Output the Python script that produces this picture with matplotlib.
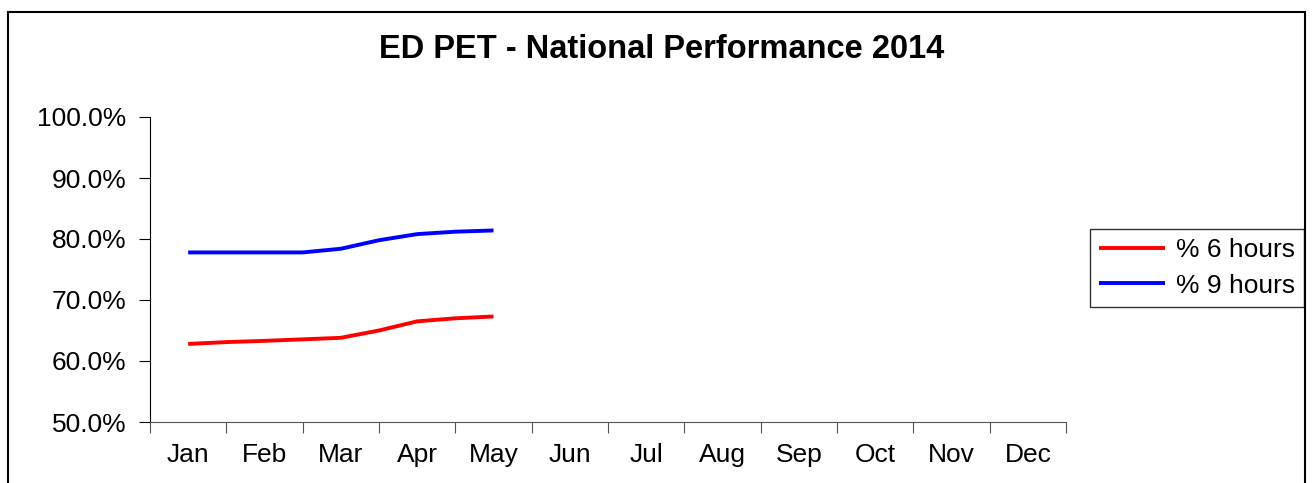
import matplotlib
matplotlib.use("Agg")
import matplotlib.pyplot as plt
from matplotlib.patches import Rectangle
import numpy as np

months = ["Jan", "Feb", "Mar", "Apr", "May", "Jun", "Jul", "Aug", "Sep", "Oct", "Nov", "Dec"]
# half-month sample positions (in month index units)
pos = [0, 0.5, 1, 1.5, 2, 2.5, 3, 3.5, 4]
six_hours = [62.8, 63.1, 63.3, 63.55, 63.8, 65.0, 66.5, 67.0, 67.3]
nine_hours = [77.8, 77.8, 77.8, 77.8, 78.4, 79.8, 80.8, 81.2, 81.4]
yticks = [50, 60, 70, 80, 90, 100]

plt.rcParams['font.family'] = ['Liberation Sans', 'DejaVu Sans']
FS = 19

fig = plt.figure(figsize=(13.16, 4.83), dpi=100)
W, H = 1316, 483
ax = fig.add_axes([150 / W, 1 - 422 / H, (1066 - 150) / W, (422 - 117) / H])

ax.plot(pos, six_hours, color="#ff0000", lw=2.8, label="% 6 hours", solid_capstyle="butt")
ax.plot(pos, nine_hours, color="#0000ff", lw=2.8, label="% 9 hours", solid_capstyle="butt")

ax.set_xlim(-0.5, 11.5)
ax.set_ylim(50, 100)
ax.set_yticks(yticks)
ax.set_yticklabels([f"{v:.1f}%" for v in yticks], fontsize=FS)
ax.set_xticks(np.arange(-0.5, 12, 1))
ax.set_xticklabels([])
ax.set_xticks(np.arange(12), minor=True)
ax.set_xticklabels(months, minor=True, fontsize=FS)
ax.tick_params(axis="x", which="minor", length=0, pad=15)
ax.tick_params(axis="x", which="major", length=8, direction="out", color="#555555")
ax.tick_params(axis="y", length=8, direction="out", pad=9)

for s in ["top", "right"]:
    ax.spines[s].set_visible(False)
ax.spines["bottom"].set_color("#555555")
ax.spines["left"].set_color("#000000")

fig.text(662 / W, 1 - 49 / H, "ED PET - National Performance 2014",
         ha="center", va="center", fontsize=23.5, fontweight="bold")

leg = ax.legend(loc="center left", bbox_to_anchor=(1090 / W, 1 - 268 / H),
                bbox_transform=fig.transFigure, fontsize=FS, frameon=True,
                fancybox=False, edgecolor="black", handlelength=2.5,
                borderpad=0.35, labelspacing=0.42, handletextpad=0.4, borderaxespad=0)
leg.get_frame().set_linewidth(1.0)

fig.patches.append(Rectangle((8 / W, -0.05), (1305 - 8) / W, 1.05 - 12 / H,
                             transform=fig.transFigure, fill=False,
                             edgecolor="black", lw=1.5))

fig.savefig("out.png", dpi=100)
